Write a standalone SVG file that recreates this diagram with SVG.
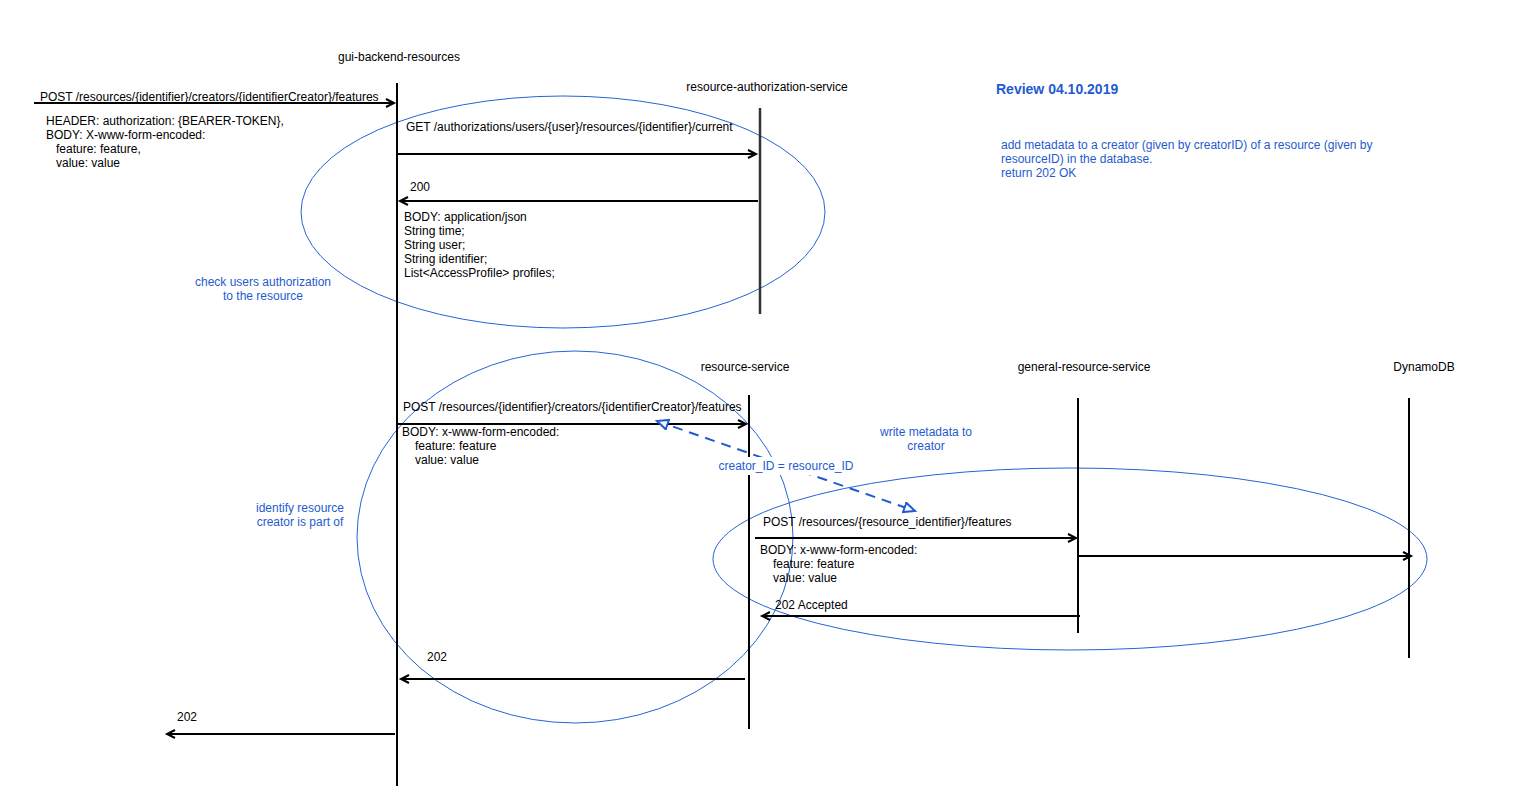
<svg xmlns="http://www.w3.org/2000/svg" width="1517" height="810" viewBox="0 0 1517 810">
<style>
text{font-family:"Liberation Sans",Arial,sans-serif;font-size:12px;fill:#000}
.b{fill:#1f5bd0}
.c{text-anchor:middle}
.life{stroke:#000;stroke-width:2;fill:none}
.msg{stroke:#000;stroke-width:2;fill:none;marker-end:url(#open)}
.ell{fill:none;stroke:#2563d6;stroke-width:1}
</style>
<defs>
<marker id="open" markerWidth="12" markerHeight="12" refX="9" refY="5" orient="auto" markerUnits="userSpaceOnUse">
<path d="M1,1 L9,5 L1,9" fill="none" stroke="#000" stroke-width="2"/>
</marker>
<marker id="tri" markerWidth="16" markerHeight="14" refX="12" refY="6" orient="auto-start-reverse" markerUnits="userSpaceOnUse">
<path d="M1,1 L12,6 L1,11 Z" fill="#fff" stroke="#1f5bd0" stroke-width="2"/>
</marker>
</defs>
<rect width="1517" height="810" fill="#fff"/>

<g id="ellipses">
<ellipse class="ell" cx="563" cy="212" rx="262" ry="116"/>
<ellipse class="ell" cx="575" cy="537" rx="218" ry="186"/>
<ellipse class="ell" cx="1070" cy="559" rx="357" ry="91"/>
</g>

<g id="gui-backend-resources">
<text x="399" y="61" class="c">gui-backend-resources</text>
<line class="life" x1="397" y1="83" x2="397" y2="786"/>
</g>
<g id="resource-authorization-service">
<text x="767" y="91" class="c">resource-authorization-service</text>
<line x1="760" y1="108" x2="760" y2="314" stroke="#333" stroke-width="2.5"/>
</g>
<g id="resource-service">
<text x="745" y="371" class="c">resource-service</text>
<line class="life" x1="749" y1="395" x2="749" y2="729"/>
</g>
<g id="general-resource-service">
<text x="1084" y="371" class="c">general-resource-service</text>
<line class="life" x1="1078" y1="398" x2="1078" y2="633"/>
</g>
<g id="DynamoDB">
<text x="1424" y="371" class="c">DynamoDB</text>
<line class="life" x1="1409" y1="398" x2="1409" y2="658"/>
</g>

<g id="connectors">
<line class="msg" x1="34" y1="103" x2="394" y2="103"/>
<line class="msg" x1="397" y1="154" x2="756" y2="154"/>
<line class="msg" x1="758" y1="201" x2="400" y2="201"/>
<line class="msg" x1="397" y1="424" x2="746" y2="424"/>
<line class="msg" x1="755" y1="538" x2="1076" y2="538"/>
<line class="msg" x1="1077" y1="556" x2="1411" y2="556"/>
<line class="msg" x1="1080" y1="616" x2="762" y2="616"/>
<line class="msg" x1="745" y1="679" x2="401" y2="679"/>
<line class="msg" x1="395" y1="734" x2="167" y2="734"/>
<line x1="657" y1="421" x2="915" y2="511" stroke="#1f5bd0" stroke-width="2" stroke-dasharray="10 7" marker-start="url(#tri)" marker-end="url(#tri)"/>
<rect x="717" y="457" width="138" height="18" fill="#fff"/>
<text x="786" y="470" class="c b">creator_ID = resource_ID</text>
</g>

<g id="labels">
<text x="40" y="101">POST /resources/{identifier}/creators/{identifierCreator}/features</text>
<text x="46" y="125">HEADER: authorization: {BEARER-TOKEN},</text>
<text x="46" y="139">BODY: X-www-form-encoded:</text>
<text x="56" y="153">feature: feature,</text>
<text x="56" y="167">value: value</text>

<text x="406" y="131">GET /authorizations/users/{user}/resources/{identifier}/current</text>
<text x="410" y="191">200</text>
<text x="404" y="221">BODY: application/json</text>
<text x="404" y="235">String time;</text>
<text x="404" y="249">String user;</text>
<text x="404" y="263">String identifier;</text>
<text x="404" y="277">List&lt;AccessProfile&gt; profiles;</text>

<text x="403" y="411">POST /resources/{identifier}/creators/{identifierCreator}/features</text>
<text x="402" y="436">BODY: x-www-form-encoded:</text>
<text x="415" y="450">feature: feature</text>
<text x="415" y="464">value: value</text>

<text x="763" y="526">POST /resources/{resource_identifier}/features</text>
<text x="760" y="554">BODY: x-www-form-encoded:</text>
<text x="773" y="568">feature: feature</text>
<text x="773" y="582">value: value</text>
<text x="775" y="609">202 Accepted</text>
<text x="427" y="661">202</text>
<text x="177" y="721">202</text>
</g>

<g id="notes">
<text x="263" y="286" class="c b">check users authorization</text>
<text x="263" y="300" class="c b">to the resource</text>
<text x="300" y="512" class="c b">identify resource</text>
<text x="300" y="526" class="c b">creator is part of</text>
<text x="926" y="436" class="c b">write metadata to</text>
<text x="926" y="450" class="c b">creator</text>
<text x="996" y="94" class="b" style="font-weight:bold;font-size:14px">Review 04.10.2019</text>
<text x="1001" y="149" class="b">add metadata to a creator (given by creatorID) of a resource (given by</text>
<text x="1001" y="163" class="b">resourceID) in the database.</text>
<text x="1001" y="177" class="b">return 202 OK</text>
</g>
</svg>
